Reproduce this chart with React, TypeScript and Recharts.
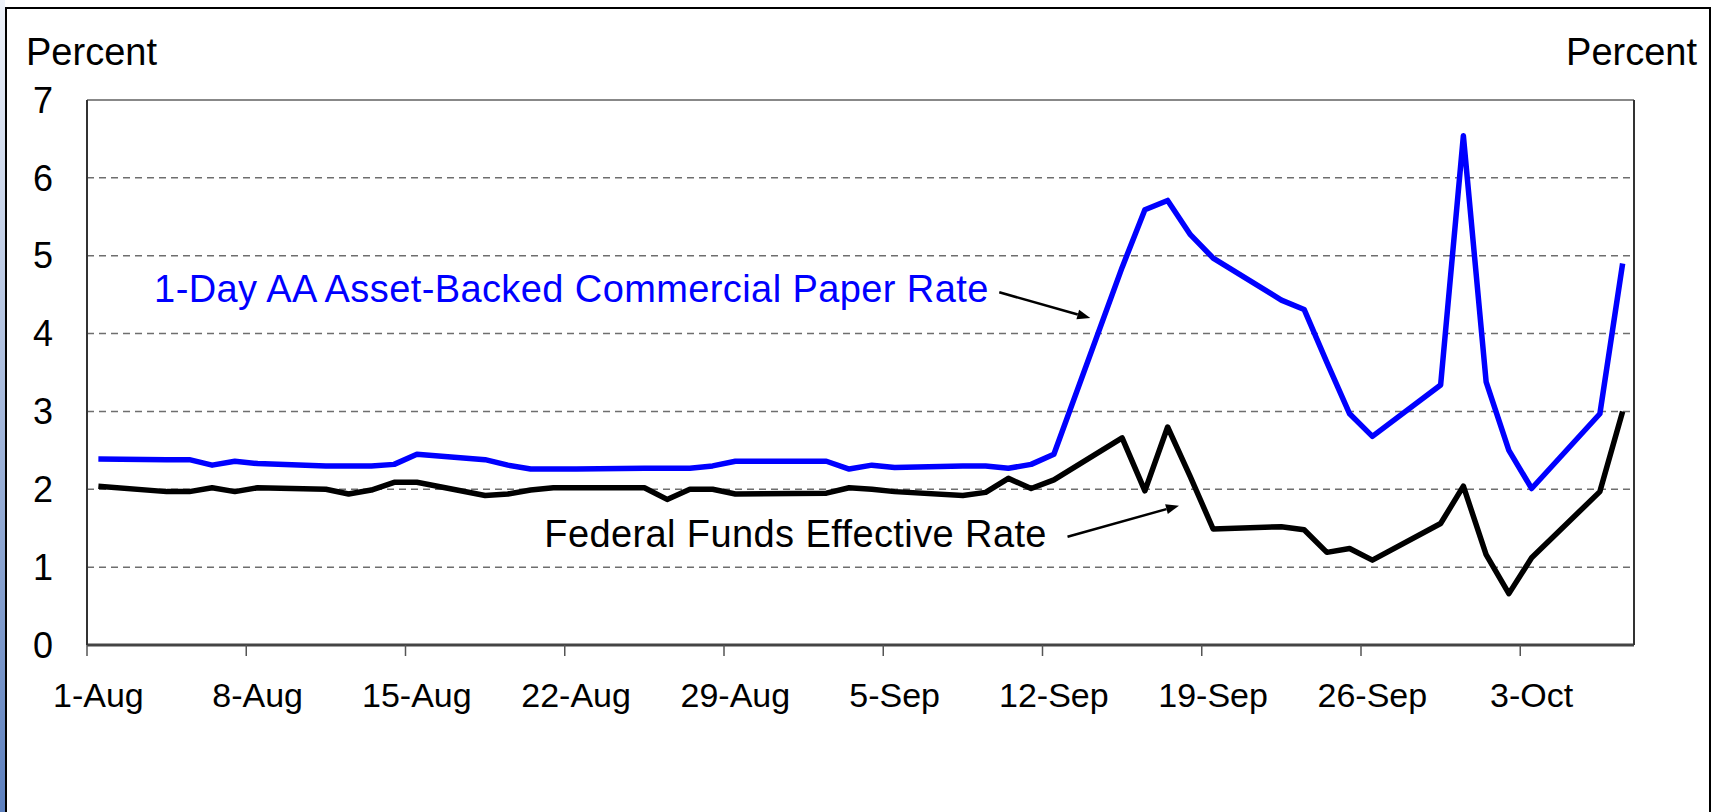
import React from 'react';
import { LineChart, Line, XAxis, YAxis, ReferenceLine, ReferenceDot } from 'recharts';

// Day offsets from 1-Aug (business days)
const dayOffsets = [0, 3, 4, 5, 6, 7, 10, 11, 12, 13, 14, 17, 18, 19, 20, 21, 24, 25, 26, 27, 28, 32, 33, 34, 35, 38, 39, 40, 41, 42, 45, 46, 47, 48, 49, 52, 53, 54, 55, 56, 59, 60, 61, 62, 63, 66, 67];
const abcpRate = [2.39, 2.38, 2.38, 2.31, 2.36, 2.33, 2.30, 2.30, 2.30, 2.32, 2.45, 2.38, 2.31, 2.26, 2.26, 2.26, 2.27, 2.27, 2.27, 2.30, 2.36, 2.36, 2.26, 2.31, 2.28, 2.30, 2.30, 2.27, 2.32, 2.45, 4.85, 5.59, 5.71, 5.27, 4.97, 4.43, 4.31, 3.63, 2.97, 2.68, 3.34, 6.54, 3.38, 2.50, 2.01, 2.97, 4.90];
const fedFundsRate = [2.04, 1.97, 1.97, 2.02, 1.97, 2.02, 2.00, 1.94, 1.99, 2.09, 2.09, 1.92, 1.94, 1.99, 2.02, 2.02, 2.02, 1.87, 2.00, 2.00, 1.94, 1.95, 2.02, 2.00, 1.97, 1.92, 1.96, 2.14, 2.01, 2.12, 2.66, 1.98, 2.80, 2.16, 1.49, 1.52, 1.48, 1.19, 1.24, 1.09, 1.56, 2.04, 1.16, 0.66, 1.12, 1.97, 3.00];

const tickDays = [0, 7, 14, 21, 28, 35, 42, 49, 56, 63];
const tickLabels = ['1-Aug', '8-Aug', '15-Aug', '22-Aug', '29-Aug', '5-Sep', '12-Sep', '19-Sep', '26-Sep', '3-Oct'];
const yTicks = [0, 1, 2, 3, 4, 5, 6, 7];
const gridValues = [1, 2, 3, 4, 5, 6];

const abcpLabel = '1-Day AA Asset-Backed Commercial Paper Rate';
const fedLabel = 'Federal Funds Effective Rate';
const abcpLabelAnchor = { x: 2.95, y: 4.41 };
const fedLabelAnchor = { x: 20.1, y: 1.26 };
const abcpArrow = [{ x: 40.1, y: 4.53 }, { x: 44.1, y: 4.2 }];
const fedArrow = [{ x: 43.1, y: 1.39 }, { x: 48.0, y: 1.79 }];

const W = 1717;
const H = 812;
const PLOT = { left: 87, top: 100, right: 1634, bottom: 645 };
const DAYS = 68;
const AXIS_W = 60;
const AXIS_H = 60;
const FONT = '"Liberation Sans", Arial, sans-serif';
const HALF_DAY = (PLOT.right - PLOT.left) / DAYS / 2;

const data = dayOffsets.map((d, i) => ({ x: d + 0.5, abcp: abcpRate[i], fed: fedFundsRate[i] }));

const XTick = (props: any) => {
  const { x, y, payload } = props;
  const idx = tickDays.indexOf(payload.value);
  return (
    <text x={x + HALF_DAY} y={y} dy={51} textAnchor="middle" fontSize={34} fontFamily={FONT} fill="#000">
      {idx >= 0 ? tickLabels[idx] : ''}
    </text>
  );
};

const Arrow = (props: any) => {
  const { x1, y1, x2, y2 } = props;
  const ang = Math.atan2(y2 - y1, x2 - x1);
  const L = 13;
  const hw = 5;
  const c = Math.cos(ang);
  const s = Math.sin(ang);
  const bx = x2 - L * c;
  const by = y2 - L * s;
  const pts = `${x2},${y2} ${bx + hw * s},${by - hw * c} ${bx - hw * s},${by + hw * c}`;
  return (
    <g>
      <line x1={x1} y1={y1} x2={bx} y2={by} stroke="#000" strokeWidth={2.5} />
      <polygon points={pts} fill="#000" />
    </g>
  );
};

const makeLabel = (text: string, color: string) => (p: any) => (
  <text x={p.cx} y={p.cy} fill={color} fontSize={38} letterSpacing={0.4} fontFamily={FONT}>
    {text}
  </text>
);

export default function App() {
  return (
    <div style={{ position: 'absolute', left: 0, top: 0, width: W, height: H, background: '#fff', overflow: 'hidden' }}>
      <div style={{ position: 'absolute', left: 0, top: 0, width: 5, height: H, background: 'linear-gradient(#eef2f9, #5d80be)' }} />
      <div style={{ position: 'absolute', left: 5, top: 7, width: 1706, height: H + 20, border: '2px solid #000', boxSizing: 'border-box' }} />
      <div style={{ position: 'absolute', left: 0, top: 0 }}>
        <LineChart
          width={W}
          height={H}
          data={data}
          margin={{ top: PLOT.top, left: PLOT.left - AXIS_W, right: W - PLOT.right - AXIS_W, bottom: H - PLOT.bottom - AXIS_H }}
        >
          <XAxis
            type="number"
            dataKey="x"
            domain={[0, DAYS]}
            ticks={tickDays}
            interval={0}
            height={AXIS_H}
            tickSize={11}
            tickMargin={0}
            tickLine={{ stroke: '#555', strokeWidth: 1.5 }}
            axisLine={{ stroke: '#444', strokeWidth: 3 }}
            tick={XTick}
          />
          <YAxis
            yAxisId="left"
            domain={[0, 7]}
            ticks={yTicks}
            interval={0}
            width={AXIS_W}
            tickSize={0}
            tickMargin={34}
            tickLine={false}
            axisLine={{ stroke: '#333', strokeWidth: 2 }}
            tick={{ fontSize: 36, fill: '#000', fontFamily: FONT }}
          />
          <YAxis
            yAxisId="right"
            orientation="right"
            domain={[0, 7]}
            ticks={yTicks}
            interval={0}
            width={AXIS_W}
            tickSize={0}
            tickMargin={33}
            tickLine={false}
            axisLine={{ stroke: '#333', strokeWidth: 2 }}
            tick={{ fontSize: 36, fill: '#000', fontFamily: FONT }}
          />
          {gridValues.map((v) => (
            <ReferenceLine key={v} yAxisId="left" y={v} stroke="#6e6e6e" strokeWidth={1.5} strokeDasharray="7 5" />
          ))}
          <ReferenceLine yAxisId="left" y={7} stroke="#888" strokeWidth={2} />
          <Line yAxisId="left" type="linear" dataKey="abcp" stroke="#0000FF" strokeWidth={5.5} dot={false} strokeLinejoin="round" isAnimationActive={false} />
          <Line yAxisId="left" type="linear" dataKey="fed" stroke="#000000" strokeWidth={5.5} dot={false} strokeLinejoin="round" isAnimationActive={false} />
          <ReferenceLine yAxisId="left" segment={abcpArrow} ifOverflow="visible" shape={Arrow} />
          <ReferenceLine yAxisId="left" segment={fedArrow} ifOverflow="visible" shape={Arrow} />
          <ReferenceDot yAxisId="left" x={abcpLabelAnchor.x} y={abcpLabelAnchor.y} r={0} ifOverflow="visible" shape={makeLabel(abcpLabel, '#0000FF')} />
          <ReferenceDot yAxisId="left" x={fedLabelAnchor.x} y={fedLabelAnchor.y} r={0} ifOverflow="visible" shape={makeLabel(fedLabel, '#000')} />
        </LineChart>
      </div>
      <svg style={{ position: 'absolute', left: 0, top: 0 }} width={W} height={120}>
        <text x={26} y={65} fontSize={38} fontFamily={FONT} fill="#000">Percent</text>
        <text x={1697} y={65} fontSize={38} fontFamily={FONT} fill="#000" textAnchor="end">Percent</text>
      </svg>
    </div>
  );
}
